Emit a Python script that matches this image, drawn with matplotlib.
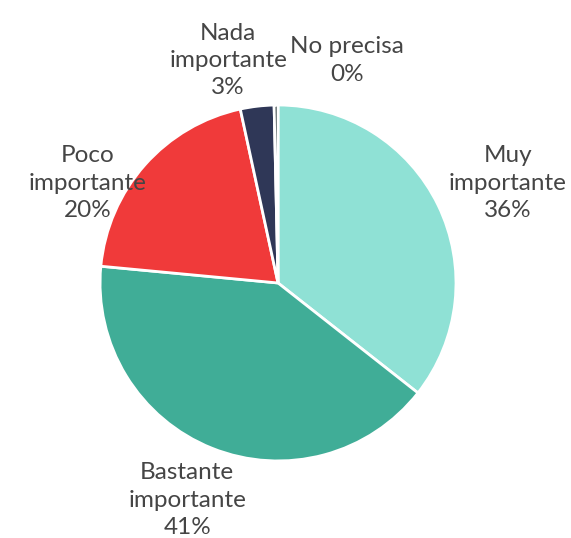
import matplotlib.pyplot as plt

labels = ['Muy\nimportante', 'Bastante\nimportante', 'Poco\nimportante', 'Nada\nimportante', 'No precisa']
values = [35.6, 40.9, 20.1, 3.05, 0.35]
pct_labels = ['36%', '41%', '20%', '3%', '0%']
colors = ['#8fe1d5', '#40ad97', '#f03a3a', '#2f3757', '#2b3a3a']

# label centres (axes data units, pie radius = 1)
label_pos = [(1.29, 0.56), (-0.51, -1.22), (-1.07, 0.56), (-0.28, 1.25), (0.39, 1.25)]

fig = plt.figure(figsize=(5.71, 5.38), dpi=100)
ax = fig.add_axes([0, 0, 1, 1])

ax.pie(values, colors=colors, startangle=90, counterclock=False,
       wedgeprops=dict(edgecolor='white', linewidth=2))

for lab, pct, (x, y) in zip(labels, pct_labels, label_pos):
    ax.text(x, y, lab + '\n' + pct, ha='center', va='center',
            fontsize=17.5, color='#454545', family=['Lato', 'DejaVu Sans'],
            linespacing=1.38)

ax.set_xlim(-1.562, 1.646)
ax.set_ylim(-1.433, 1.590)
ax.set_aspect('equal')
ax.axis('off')

fig.savefig('out.png', dpi=100)
